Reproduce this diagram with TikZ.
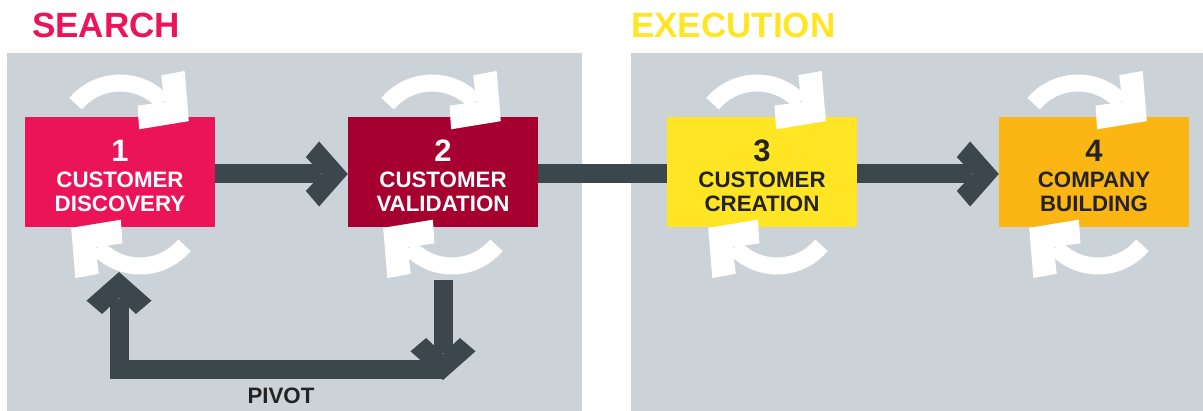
\documentclass[tikz,border=0pt]{standalone}
\usepackage{fontspec}
\setsansfont{Liberation Sans}
\usetikzlibrary{arrows.meta}
\definecolor{panel}{RGB}{203,211,216}
\definecolor{conn}{RGB}{60,70,77}
\definecolor{searchred}{RGB}{236,20,89}
\definecolor{validred}{RGB}{166,0,48}
\definecolor{creayellow}{RGB}{255,229,36}
\definecolor{buildorange}{RGB}{252,182,20}
\definecolor{inktext}{RGB}{35,35,35}

% thick chevron head, filled in the line colour
\pgfdeclarearrow{
  name = Chevron,
  parameters = {\the\pgfarrowlength,\the\pgfarrowwidth},
  setup code = {
    \pgfarrowssettipend{0pt}
    \pgfarrowssetbackend{-\pgfarrowlength}
    \pgfarrowssetlineend{-.65\pgfarrowlength}
    \pgfarrowssavethe\pgfarrowlength
    \pgfarrowssavethe\pgfarrowwidth
  },
  drawing code = {
    \pgfpathmoveto{\pgfqpoint{0pt}{0pt}}
    \pgfpathlineto{\pgfqpoint{-.683\pgfarrowlength}{.5\pgfarrowwidth}}
    \pgfpathlineto{\pgfqpoint{-\pgfarrowlength}{.26\pgfarrowwidth}}
    \pgfpathlineto{\pgfqpoint{-.62\pgfarrowlength}{0pt}}
    \pgfpathlineto{\pgfqpoint{-\pgfarrowlength}{-.26\pgfarrowwidth}}
    \pgfpathlineto{\pgfqpoint{-.683\pgfarrowlength}{-.5\pgfarrowwidth}}
    \pgfpathclose
    \pgfusepathqfill
  },
  defaults = {length = 41pt, width = 64pt}
}

\tikzset{
  stage/.style={minimum width=190pt, minimum height=110pt, inner sep=0pt, align=center,
    font=\sffamily\bfseries\fontsize{22.3}{24}\selectfont},
  phase/.style={anchor=base west, inner sep=0pt, font=\sffamily\bfseries\fontsize{35}{35}\selectfont},
  flow/.style={draw=conn, line width=19pt},
  flowtip/.style={-{Chevron[length=42pt,width=65pt]}},
  turnarrow/.style={draw=white, line width=17pt, -{Chevron[length=50pt,width=74pt]}},
}
\newcommand\stagenum[1]{{\fontsize{31}{31}\selectfont\rule{0pt}{30pt}#1}\\[2pt]}

\begin{document}
\begin{tikzpicture}[x=1pt,y=1pt] % image pixels, y negative downwards
    \useasboundingbox (0,0) rectangle (1203,-411);

    % the two phases
    \fill[panel] (7,-53) rectangle (582,-411);
    \fill[panel] (631,-53) rectangle (1203,-411);
    \node[phase, text=searchred] (searchhead) at (32,-38) {SEARCH};
    \node[phase, text=creayellow] (exechead) at (631,-38) {EXECUTION};

    % the four steps
    \node[stage, fill=searchred, text=white] (s1) at (120,-172) {\stagenum{1}CUSTOMER\\DISCOVERY};
    \node[stage, fill=validred, text=white] (s2) at (443,-172) {\stagenum{2}CUSTOMER\\VALIDATION};
    \node[stage, fill=creayellow, text=inktext] (s3) at (762,-172) {\stagenum{3}CUSTOMER\\CREATION};
    \node[stage, fill=buildorange, text=inktext] (s4) at (1094,-172) {\stagenum{4}COMPANY\\BUILDING};

    % iteration arrows round each step
    \foreach \b/\dx in {s1/10, s2/-1, s3/5, s4/-6} {
        \draw[turnarrow] ([shift={(\dx-10,31)}]\b.center) ++(140:58)
            arc[start angle=140, end angle=52, radius=58] -- ++(-38:42);
        \draw[turnarrow] ([shift={(\dx+10,-36)}]\b.center) ++(-40:58)
            arc[start angle=-40, end angle=-128, radius=58] -- ++(142:42);
    }

    % flow between the steps
    \draw[flow, flowtip] ([yshift=-2]s1.east) -- ([yshift=-2]s2.west);
    \draw[flow] ([yshift=-2]s2.east) -- ([yshift=-2]s3.west);
    \draw[flow, flowtip] ([yshift=-2]s3.east) -- ([yshift=-2]s4.west);

    % pivot loop
    \coordinate (pivottop) at (443,-280);
    \coordinate (pivotdown) at (443,-380);
    \coordinate (pivotright) at (443,-370);
    \coordinate (pivotleft) at (119,-370);
    \coordinate (pivotup) at (119,-272);
    \draw[flow, flowtip] (pivottop) -- (pivotdown);
    \draw[flow, flowtip, line join=miter] (pivotright) -- (pivotleft) -- (pivotup);
    \node[font=\sffamily\bfseries\fontsize{22.3}{24}\selectfont, text=inktext] (pivotlabel) at (281,-396) {PIVOT};
\end{tikzpicture}
\end{document}
